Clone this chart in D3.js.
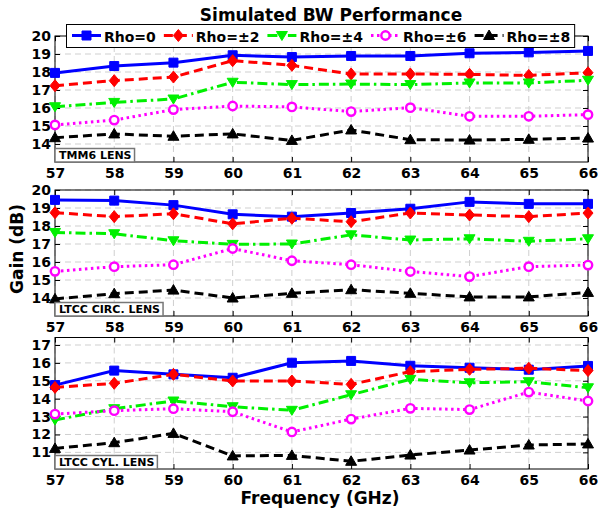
<!DOCTYPE html>
<html>
<head>
<meta charset="utf-8">
<script src="https://cdn.jsdelivr.net/npm/d3@7/dist/d3.min.js"></script>
<style>
  body { margin: 0; background: #fff; }
  text { font-family: "DejaVu Sans", Verdana, sans-serif; font-weight: bold; }
</style>
</head>
<body>
<svg id="chart" width="598" height="510"></svg>
<script>
// ---- data -------------------------------------------------------------
const freqs = [57, 58, 59, 60, 61, 62, 63, 64, 65, 66];
const seriesNames = ["Rho=0", "Rho=\u00b12", "Rho=\u00b14", "Rho=\u00b16", "Rho=\u00b18"];
const panelLabels = ["TMM6 LENS", "LTCC CIRC. LENS", "LTCC CYL. LENS"];

// TMM6 lens
const tmm6Rho0 = [17.95, 18.33, 18.52, 18.93, 18.83, 18.89, 18.89, 19.04, 19.09, 19.17];
const tmm6Rho2 = [17.24, 17.52, 17.72, 18.63, 18.37, 17.89, 17.89, 17.87, 17.81, 17.96];
const tmm6Rho4 = [16.07, 16.31, 16.50, 17.43, 17.30, 17.33, 17.30, 17.39, 17.39, 17.54];
const tmm6Rho6 = [15.06, 15.33, 15.91, 16.11, 16.06, 15.80, 16.02, 15.54, 15.54, 15.63];
const tmm6Rho8 = [14.35, 14.56, 14.43, 14.56, 14.20, 14.78, 14.24, 14.22, 14.26, 14.33];

// LTCC circular lens
const circRho0 = [19.45, 19.41, 19.16, 18.65, 18.52, 18.72, 18.96, 19.34, 19.23, 19.23];
const circRho2 = [18.74, 18.52, 18.68, 18.12, 18.43, 18.24, 18.72, 18.61, 18.52, 18.72];
const circRho4 = [17.64, 17.57, 17.18, 16.98, 17.00, 17.51, 17.22, 17.29, 17.15, 17.29];
const circRho6 = [15.48, 15.74, 15.85, 16.75, 16.07, 15.85, 15.47, 15.19, 15.74, 15.83];
const circRho8 = [13.95, 14.24, 14.44, 14.00, 14.26, 14.46, 14.26, 14.06, 14.06, 14.31];

// LTCC cylindrical lens
const cylRho0 = [14.76, 15.57, 15.36, 15.17, 16.01, 16.11, 15.84, 15.73, 15.62, 15.83];
const cylRho2 = [14.63, 14.86, 15.36, 14.99, 14.99, 14.80, 15.51, 15.64, 15.70, 15.57];
const cylRho4 = [12.81, 13.44, 13.87, 13.55, 13.35, 14.22, 15.08, 14.89, 14.95, 14.61];
const cylRho6 = [13.14, 13.33, 13.44, 13.27, 12.14, 12.86, 13.46, 13.39, 14.37, 13.87];
const cylRho8 = [11.22, 11.54, 12.06, 10.80, 10.83, 10.50, 10.85, 11.13, 11.41, 11.47];

const gainTicksUpper = [14, 15, 16, 17, 18, 19, 20];
const gainTicksLower = [11, 12, 13, 14, 15, 16, 17];

// ---- styling ----------------------------------------------------------
const seriesStyle = [
  { color: "#0000ff", dash: null,            marker: "square" },
  { color: "#ff0000", dash: "9,5",           marker: "diamond" },
  { color: "#00f000", dash: "10,4,2.5,4",    marker: "triDown" },
  { color: "#ff00ff", dash: "2.5,3.5",       marker: "circle" },
  { color: "#000000", dash: "9,5",           marker: "triUp" }
];

const markerPaths = {
  square:  "M-4.5,-4.5H4.5V4.5H-4.5Z",
  diamond: "M0,-6L5,0L0,6L-5,0Z",
  triDown: "M-5.5,-4L5.5,-4L0,5Z",
  triUp:   "M0,-5.5L5.5,4L-5.5,4Z"
};

function drawMarker(g, kind, color, x, y) {
  if (kind === "circle") {
    g.append("circle").attr("cx", x).attr("cy", y).attr("r", 4.2)
      .attr("fill", "#fff").attr("stroke", color).attr("stroke-width", 2.4);
  } else {
    g.append("path").attr("d", markerPaths[kind])
      .attr("transform", `translate(${x},${y})`)
      .attr("fill", color).attr("stroke", color).attr("stroke-width", 1);
  }
}

// ---- layout -----------------------------------------------------------
const svg = d3.select("#chart");
const x = d3.scaleLinear().domain([57, 66]).range([55, 588]);

const panels = [
  { label: panelLabels[0], series: [tmm6Rho0, tmm6Rho2, tmm6Rho4, tmm6Rho6, tmm6Rho8],
    domain: [13, 20], top: 36, bottom: 162, ticks: gainTicksUpper },
  { label: panelLabels[1], series: [circRho0, circRho2, circRho4, circRho6, circRho8],
    domain: [13, 20], top: 190, bottom: 316, ticks: gainTicksUpper },
  { label: panelLabels[2], series: [cylRho0, cylRho2, cylRho4, cylRho6, cylRho8],
    domain: [10.07, 17.42], top: 337.5, bottom: 469, ticks: gainTicksLower }
];

const tickLen = 5;
const [xl, xr] = x.range();

panels.forEach(p => {
  const y = d3.scaleLinear().domain(p.domain).range([p.bottom, p.top]);
  const g = svg.append("g");

  // dashed grid
  const grid = g.append("g").attr("stroke", "#cfcfcf").attr("stroke-width", 1)
    .attr("stroke-dasharray", "6,4");
  freqs.forEach(f => {
    grid.append("line").attr("x1", x(f)).attr("x2", x(f))
      .attr("y1", p.top).attr("y2", p.bottom);
  });
  p.ticks.forEach(t => {
    grid.append("line").attr("x1", xl).attr("x2", xr)
      .attr("y1", y(t)).attr("y2", y(t));
  });

  // axes with inward ticks on all four sides
  const axB = g.append("g").attr("transform", `translate(0,${p.bottom})`)
    .call(d3.axisBottom(x).tickValues(freqs).tickFormat(d3.format("d"))
      .tickSizeInner(-tickLen).tickSizeOuter(0).tickPadding(6));
  const axT = g.append("g").attr("transform", `translate(0,${p.top})`)
    .call(d3.axisTop(x).tickValues(freqs).tickFormat("")
      .tickSizeInner(-tickLen).tickSizeOuter(0));
  const axL = g.append("g").attr("transform", `translate(${xl},0)`)
    .call(d3.axisLeft(y).tickValues(p.ticks).tickFormat(d3.format("d"))
      .tickSizeInner(-tickLen).tickSizeOuter(0).tickPadding(4));
  const axR = g.append("g").attr("transform", `translate(${xr},0)`)
    .call(d3.axisRight(y).tickValues(p.ticks).tickFormat("")
      .tickSizeInner(-tickLen).tickSizeOuter(0));
  [axB, axT, axL, axR].forEach(a => {
    a.select(".domain").remove();
    a.selectAll("line").attr("stroke", "#000");
    a.selectAll("text").attr("fill", "#000")
      .style("font-family", '"DejaVu Sans", Verdana, sans-serif')
      .style("font-weight", "bold").style("font-size", "14px");
  });

  g.append("rect").attr("x", xl).attr("y", p.top)
    .attr("width", xr - xl).attr("height", p.bottom - p.top)
    .attr("fill", "none").attr("stroke", "#000").attr("stroke-width", 1);

  // series lines and markers
  p.series.forEach((vals, i) => {
    const st = seriesStyle[i];
    const line = d3.line().x((d, j) => x(freqs[j])).y(d => y(d));
    g.append("path").datum(vals).attr("d", line)
      .attr("fill", "none").attr("stroke", st.color).attr("stroke-width", 3)
      .attr("stroke-dasharray", st.dash);
    const mg = g.append("g");
    vals.forEach((v, j) => drawMarker(mg, st.marker, st.color, x(freqs[j]), y(v)));
  });

  // panel label box, lower-left corner
  const lb = g.append("g");
  const lt = lb.append("text").attr("x", xl + 4).attr("y", p.bottom - 3)
    .style("font-size", "11px").attr("fill", "#000").text(p.label);
  const w = lt.node().getComputedTextLength();
  lb.insert("rect", "text").attr("x", xl).attr("y", p.bottom - 13.5)
    .attr("width", w + 7).attr("height", 13.5)
    .attr("fill", "#fff").attr("stroke", "#777").attr("stroke-width", 1.5);
});

// ---- legend -----------------------------------------------------------
const leg = svg.append("g");
const legRect = leg.append("rect").attr("x", 66.5).attr("y", 24.5)
  .attr("height", 23).attr("fill", "#fff").attr("stroke", "#000").attr("stroke-width", 1);
let tx = 104;
seriesNames.forEach((name, i) => {
  const st = seriesStyle[i];
  const sx0 = tx - 32, sx1 = tx - 3, sy = 35.5;
  leg.append("line").attr("x1", sx0).attr("x2", sx1).attr("y1", sy).attr("y2", sy)
    .attr("stroke", st.color).attr("stroke-width", 3).attr("stroke-dasharray", st.dash);
  drawMarker(leg, st.marker, st.color, (sx0 + sx1) / 2, sy);
  const t = leg.append("text").attr("x", tx).attr("y", 41.5)
    .style("font-size", "14px").attr("fill", "#000").text(name);
  tx += t.node().getComputedTextLength() + 40;
});
legRect.attr("width", tx - 40 + 4.5 - 66.5);

// ---- titles -----------------------------------------------------------
svg.append("text").attr("x", 331).attr("y", 21).attr("text-anchor", "middle")
  .style("font-size", "17px").text("Simulated BW Performance");
svg.append("text").attr("x", 320).attr("y", 504).attr("text-anchor", "middle")
  .style("font-size", "17px").text("Frequency (GHz)");
svg.append("text").attr("transform", "translate(23,249) rotate(-90)")
  .attr("text-anchor", "middle").style("font-size", "17px").text("Gain (dB)");
</script>
</body>
</html>
